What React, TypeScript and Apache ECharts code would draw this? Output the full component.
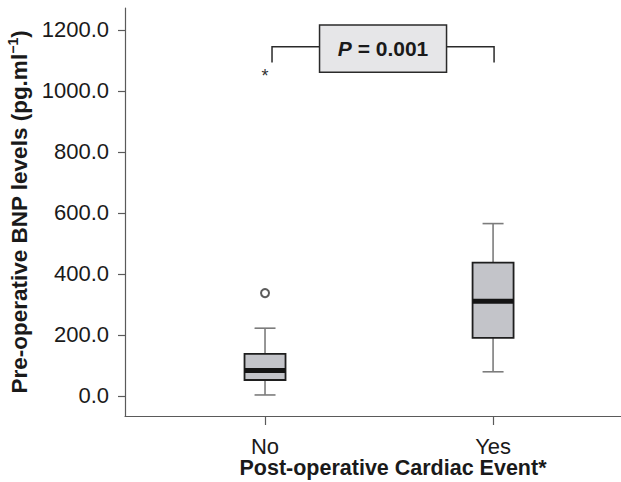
import React, { useEffect, useRef } from "react";
import * as echarts from "echarts";

// ---- data ----
const categories = ["No", "Yes"];
const categoryIndex = [0, 1];
// [min whisker, Q1, median, Q3, max whisker]
const boxNo = [3, 52, 83, 138, 222];
const boxYes = [79, 190, 310, 437, 565];
const outlierCircles = [[0, 337]];
const extremeStars = [[0, 1062]];
const yTicks = [0, 200, 400, 600, 800, 1000, 1200];
const pText = "P = 0.001";
// bracket: [from category, to category, bar level, leg end, box top, box bottom]
const bracket = [[0, 1, 1145, 1093, 1216, 1061]];

const Y_MIN = -66;
const Y_MAX = 1272;
const X_MIN = -0.614;
const X_MAX = 1.561;
const FONT = "'Liberation Sans', Arial, Helvetica, sans-serif";
const TEXT = "#1a1a1a";
const AXIS = "#5a5a5a";

export default function App() {
  const ref = useRef<HTMLDivElement>(null);
  useEffect(() => {
    if (!ref.current) return;
    const chart = echarts.init(ref.current, null, { renderer: "svg" });
    const boxData = [
      [0, ...boxNo],
      [1, ...boxYes],
    ];
    const option: any = {
      animation: false,
      backgroundColor: "#ffffff",
      textStyle: { fontFamily: FONT, color: TEXT },
      grid: {
        left: 125,
        top: 8,
        width: 496,
        height: 408,
        containLabel: false,
        outerBoundsMode: "none",
      },
      xAxis: {
        type: "value",
        min: X_MIN,
        max: X_MAX,
        axisLine: { show: true, onZero: false, lineStyle: { color: AXIS, width: 1.2 } },
        axisTick: {
          show: true,
          length: 9,
          customValues: categoryIndex,
          lineStyle: { color: AXIS, width: 1.2 },
        },
        axisLabel: {
          customValues: categoryIndex,
          formatter: (v: number) => categories[Math.round(v)] ?? "",
          margin: 19,
          fontSize: 22,
          color: TEXT,
          fontFamily: FONT,
        },
        splitLine: { show: false },
        name: "Post-operative Cardiac Event*",
        nameLocation: "middle",
        nameMoveOverlap: false,
        nameGap: 43,
        nameTextStyle: {
          fontSize: 21.5,
          lineHeight: 18,
          fontWeight: "bold",
          color: TEXT,
          fontFamily: FONT,
          padding: [0, 0, 0, 40],
        },
      },
      yAxis: {
        type: "value",
        min: Y_MIN,
        max: Y_MAX,
        axisLine: { show: true, onZero: false, lineStyle: { color: AXIS, width: 1.2 } },
        axisTick: {
          show: true,
          length: 7,
          customValues: yTicks,
          lineStyle: { color: AXIS, width: 1.2 },
        },
        axisLabel: {
          customValues: yTicks,
          margin: 16,
          fontSize: 22,
          color: TEXT,
          fontFamily: FONT,
          formatter: (v: number) => v.toFixed(1),
        },
        splitLine: { show: false },
        name: "Pre-operative BNP levels (pg.ml{sup|−1})",
        nameLocation: "middle",
        nameGap: 92,
        nameTextStyle: {
          fontSize: 22.5,
          fontWeight: "bold",
          color: TEXT,
          fontFamily: FONT,
          rich: {
            sup: {
              fontSize: 14,
              fontWeight: "bold",
              color: TEXT,
              fontFamily: FONT,
              padding: [0, 0, 12, 0],
            },
          },
        },
      },
      series: [
        {
          type: "custom",
          name: "box",
          encode: { x: 0, y: [1, 2, 3, 4, 5] },
          data: boxData,
          renderItem: (params: any, api: any) => {
            const c = api.value(0);
            const x = api.coord([c, 0])[0];
            const yMin = api.coord([c, api.value(1)])[1];
            const yQ1 = api.coord([c, api.value(2)])[1];
            const yMed = api.coord([c, api.value(3)])[1];
            const yQ3 = api.coord([c, api.value(4)])[1];
            const yMax = api.coord([c, api.value(5)])[1];
            const half = 20.5;
            const cap = 10.5;
            const wStyle = { stroke: "#7c7c7c", lineWidth: 1.6 };
            return {
              type: "group",
              children: [
                { type: "line", shape: { x1: x, y1: yMax, x2: x, y2: yQ3 }, style: wStyle },
                { type: "line", shape: { x1: x - cap, y1: yMax, x2: x + cap, y2: yMax }, style: wStyle },
                { type: "line", shape: { x1: x, y1: yQ1, x2: x, y2: yMin }, style: wStyle },
                { type: "line", shape: { x1: x - cap, y1: yMin, x2: x + cap, y2: yMin }, style: wStyle },
                {
                  type: "rect",
                  shape: { x: x - half, y: yQ3, width: half * 2, height: yQ1 - yQ3 },
                  style: { fill: "#c3c4c9", stroke: "#1e1e1e", lineWidth: 1.8 },
                },
                {
                  type: "line",
                  shape: { x1: x - half, y1: yMed, x2: x + half, y2: yMed },
                  style: { stroke: "#141414", lineWidth: 5 },
                },
              ],
            };
          },
          z: 3,
        },
        {
          type: "scatter",
          name: "outliers",
          data: outlierCircles,
          symbol: "emptyCircle",
          symbolSize: 8,
          itemStyle: { color: "#333333", borderColor: "#333333", borderWidth: 1.3 },
          z: 4,
        },
        {
          type: "custom",
          name: "extremes",
          encode: { x: 0, y: 1 },
          data: extremeStars,
          renderItem: (params: any, api: any) => {
            const p = api.coord([api.value(0), api.value(1)]);
            return {
              type: "text",
              x: p[0],
              y: p[1] + 4,
              style: {
                text: "*",
                fontSize: 18,
                fontFamily: FONT,
                fill: "#333333",
                align: "center",
                verticalAlign: "middle",
              },
            };
          },
          z: 4,
        },
        {
          type: "custom",
          name: "significance",
          encode: { x: [0, 1], y: [2, 3, 4, 5] },
          data: bracket,
          renderItem: (params: any, api: any) => {
            const xa = api.coord([api.value(0), 0])[0] + 7;
            const xb = api.coord([api.value(1), 0])[0] + 1;
            const yBar = api.coord([0, api.value(2)])[1];
            const yLeg = api.coord([0, api.value(3)])[1];
            const yTop = api.coord([0, api.value(4)])[1];
            const yBot = api.coord([0, api.value(5)])[1];
            const mid = (xa + xb) / 2;
            const bw = 127;
            const ls = { stroke: "#2a2a2a", lineWidth: 1.5 };
            return {
              type: "group",
              children: [
                {
                  type: "polyline",
                  shape: { points: [[xa, yLeg], [xa, yBar], [mid - bw / 2, yBar]] },
                  style: { ...ls, fill: "none" },
                },
                {
                  type: "polyline",
                  shape: { points: [[mid + bw / 2, yBar], [xb, yBar], [xb, yLeg]] },
                  style: { ...ls, fill: "none" },
                },
                {
                  type: "rect",
                  shape: { x: mid - bw / 2, y: yTop, width: bw, height: yBot - yTop },
                  style: { fill: "#e6e6e8", stroke: "#2a2a2a", lineWidth: 1.5 },
                },
                {
                  type: "text",
                  x: mid,
                  y: (yTop + yBot) / 2,
                  style: {
                    text: "{i|P}{b|" + pText.slice(1) + "}",
                    align: "center",
                    verticalAlign: "middle",
                    rich: {
                      i: {
                        fontSize: 21,
                        fontWeight: "bold",
                        fontStyle: "italic",
                        fontFamily: FONT,
                        fill: TEXT,
                      },
                      b: {
                        fontSize: 21,
                        fontWeight: "bold",
                        fontFamily: FONT,
                        fill: TEXT,
                      },
                    },
                  },
                },
              ],
            };
          },
          z: 5,
        },
      ],
    };
    chart.setOption(option);
    return () => chart.dispose();
  }, []);
  return (
    <div
      ref={ref}
      style={{ position: "fixed", left: 0, top: 0, width: 621, height: 482 }}
    />
  );
}
